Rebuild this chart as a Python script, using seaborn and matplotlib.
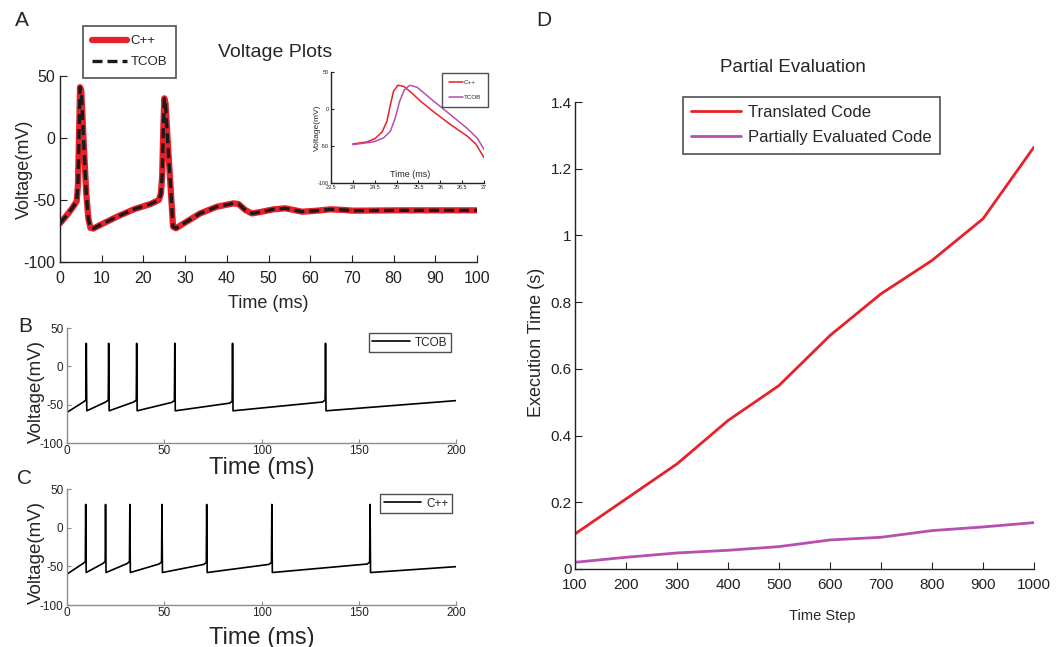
import matplotlib
matplotlib.use("Agg")
import matplotlib.pyplot as plt
import pandas as pd
import seaborn as sns

# ---- panel A: whole trace, C++ and TCOB lie on top of each other
a_time = [0, 1.7, 2.9, 4.0, 4.3, 4.55, 4.8, 5.1, 5.7, 6.3, 6.8, 7.3, 8.0,
          9.7, 13.7, 17.7, 21.7, 23.7, 24.2, 24.5, 24.75, 25.0, 25.3, 25.7,
          26.5, 27.1, 27.8, 29.7, 33.6, 37.6, 41.6, 42.8, 44.4, 46.0, 48.0,
          51.2, 54.0, 56.0, 58.0, 61.6, 64.8, 68.0, 70.3, 81.5, 100]
a_volt = [-68.8, -62, -56.7, -51, -38, 0, 41, 38, -5, -45, -65, -72.5, -73,
          -70, -63.4, -57.5, -53.2, -50, -44.6, -30, 5, 32, 28, 4,
          -39, -71.5, -72.8, -68.8, -60.8, -55.4, -52.7, -53.2, -58, -60.8, -59.7,
          -57.5, -56.7, -58, -59.4, -58.6, -57.5, -58, -58.6, -58.3, -58.3]

# ---- inset: zoom on the second spike
in_time_cpp = [24.0, 24.32, 24.51, 24.67, 24.78, 24.86, 24.93, 25.03, 25.16,
               25.32, 25.55, 25.85, 26.23, 26.62, 26.81, 27.0]
in_volt_cpp = [-47.3, -44.6, -40, -31, -16.7, 5.9, 23.9, 32, 30.6,
               23, 10.4, -4, -21, -37, -47.3, -66]
in_time_tcob = [24.0, 24.47, 24.7, 24.86, 24.97, 25.07, 25.18, 25.3, 25.47,
                25.85, 26.23, 26.62, 26.85, 27.0]
in_volt_tcob = [-48.2, -44.6, -39.2, -30, -12, 10.4, 26, 32, 29.3,
                10.4, -7.7, -26.6, -40, -55]

# ---- panels B and C: spike trains
b_spike_times = [9.9, 21.4, 35.8, 55.4, 85.1, 132.9]
b_prespike = [-44, -44, -44, -44.5, -45.5, -44]
b_start_v, b_end_v = -60, -44.7
c_spike_times = [9.6, 19.8, 32.3, 48.8, 71.8, 105.3, 155.8]
c_prespike = [-44, -44, -44, -44.5, -45, -45, -44.5]
c_start_v, c_end_v = -60, -50.4
spike_peak = 30
reset_v = -58

# ---- panel D
time_steps = [100, 200, 300, 400, 500, 600, 700, 800, 900, 1000]
translated = [0.105, 0.21, 0.315, 0.445, 0.55, 0.70, 0.825, 0.925, 1.05, 1.265]
partial = [0.02, 0.035, 0.048, 0.056, 0.067, 0.087, 0.095, 0.115, 0.126, 0.139]
d_yticks = [0, 0.2, 0.4, 0.6, 0.8, 1.0, 1.2, 1.4]
d_yticklabels = ["0", "0.2", "0.4", "0.6", "0.8", "1", "1.2", "1.4"]

RED = "#e8202a"
MAGENTA = "#b64fae"
NARROW = ["Liberation Sans Narrow", "Liberation Sans", "DejaVu Sans"]
SANS = ["Liberation Sans", "DejaVu Sans"]
W, H = 1064, 647
DASH = (3.0, 1.5)

sns.set_style("ticks")
plt.rcParams["font.family"] = SANS
plt.rcParams["axes.linewidth"] = 1.0
plt.rcParams["axes.unicode_minus"] = False


def spike_train(spikes, pre, v0, v_end, t_end=200):
    t, v = [0], [v0]
    for s, p in zip(spikes, pre):
        t += [s - 1.5, s - 0.2, s, s + 0.25]
        v += [p - 2.5, p, spike_peak, reset_v]
    t.append(t_end)
    v.append(v_end)
    return pd.DataFrame({"t": t, "v": v})


def style_axes(ax, color="#222222", length=4, size=11, family=NARROW,
               xpad=3.5, ypad=3.5):
    sns.despine(ax=ax)
    for s in ("left", "bottom"):
        ax.spines[s].set_color(color)
    ax.tick_params(direction="in", length=length, color=color,
                   labelsize=size, labelcolor="#222222")
    ax.tick_params(axis="x", pad=xpad)
    ax.tick_params(axis="y", pad=ypad)
    for lab in ax.get_xticklabels() + ax.get_yticklabels():
        lab.set_family(family)


def fig_legend(ax, x, y, loc="upper left", **kw):
    leg = ax.legend(loc=loc, bbox_to_anchor=(x / W, 1 - y / H),
                    bbox_transform=fig.transFigure, frameon=True,
                    fancybox=False, edgecolor="#222222", borderaxespad=0,
                    **kw)
    return leg


fig = plt.figure(figsize=(10.64, 6.47), dpi=100)

# ================= A
axA = fig.add_axes([0.0564, 0.595, 0.392, 0.2875])
dfA = pd.DataFrame({"t": a_time, "v": a_volt})
sns.lineplot(data=dfA, x="t", y="v", ax=axA, color=RED, lw=4.5,
             sort=False, estimator=None, label="C++")
sns.lineplot(data=dfA, x="t", y="v", ax=axA, color="#1a1a1a", lw=2.4,
             sort=False, estimator=None, label="TCOB", linestyle="--")
axA.lines[-1].set_dashes(DASH)
axA.set_xlim(0, 100)
axA.set_ylim(-100, 50)
axA.set_xticks(range(0, 101, 10))
axA.set_yticks([-100, -50, 0, 50])
style_axes(axA, length=5, size=11.5, xpad=6.5)
axA.set_xlabel("Time (ms)", fontsize=13)
axA.set_ylabel("Voltage(mV)", fontsize=13)
axA.xaxis.set_label_coords(0.5, -0.177)
axA.yaxis.set_label_coords(-0.066, 0.5)
axA.text(0.516, 1.124, "Voltage Plots", transform=axA.transAxes,
         ha="center", va="center", fontsize=14)
legA = fig_legend(axA, 83, 26, handlelength=2.6, borderpad=0.7,
                  labelspacing=0.65, handletextpad=0.3,
                  prop={"family": NARROW, "size": 9.5})
legA.get_frame().set_linewidth(1.2)
legA.get_lines()[1].set_dashes(DASH)

# ================= inset
axI = fig.add_axes([0.311, 0.7172, 0.144, 0.1716])
axI.set_facecolor("none")
sns.lineplot(x=in_time_cpp, y=in_volt_cpp, ax=axI, color=RED, lw=1.1,
             sort=False, estimator=None, label="C++")
sns.lineplot(x=in_time_tcob, y=in_volt_tcob, ax=axI, color=MAGENTA, lw=1.1,
             sort=False, estimator=None, label="TCOB")
axI.set_xlim(23.5, 27)
axI.set_ylim(-100, 50)
axI.set_xticks([23.5, 24, 24.5, 25, 25.5, 26, 26.5, 27])
axI.set_xticklabels(["23.5", "24", "24.5", "25", "25.5", "26", "26.5", "27"])
axI.set_yticks([-100, -50, 0, 50])
style_axes(axI, length=2.5, size=4, xpad=1.5, ypad=1.5)
axI.text(0.52, 0.08, "Time (ms)", transform=axI.transAxes, ha="center",
         va="center", fontsize=6.5, family=NARROW)
axI.set_ylabel("Voltage(mV)", fontsize=6)
axI.yaxis.set_label_coords(-0.065, 0.5)
axI.set_xlabel("")
legI = fig_legend(axI, 442, 73, handlelength=2.2, borderpad=1.1,
                  labelspacing=1.5, handletextpad=0.2,
                  prop={"family": NARROW, "size": 4.5})
legI.get_frame().set_linewidth(1.0)

# ================= B and C
panels = [
    ([0.063, 0.3153, 0.3656, 0.1777], b_spike_times, b_prespike,
     b_start_v, b_end_v, "TCOB", (451, 333), -0.12),
    ([0.063, 0.0649, 0.3656, 0.1793], c_spike_times, c_prespike,
     c_start_v, c_end_v, "C++", (452, 494), -0.19),
]
for rect, spikes, pre, v0, v1, name, legpos, xl_y in panels:
    ax = fig.add_axes(rect)
    sns.lineplot(data=spike_train(spikes, pre, v0, v1), x="t", y="v", ax=ax,
                 color="black", lw=1.2, sort=False, estimator=None, label=name)
    ax.set_xlim(0, 200)
    ax.set_ylim(-100, 50)
    ax.set_xticks([0, 50, 100, 150, 200])
    ax.set_yticks([-100, -50, 0, 50])
    style_axes(ax, color="#8c8c8c", length=3, size=8.5, family=SANS,
               xpad=1.5, ypad=2.5)
    ax.set_xlabel("Time (ms)", fontsize=17)
    ax.set_ylabel("Voltage(mV)", fontsize=13.5)
    ax.xaxis.set_label_coords(0.5, xl_y)
    ax.yaxis.set_label_coords(-0.057, 0.45)
    leg = fig_legend(ax, legpos[0], legpos[1], loc="upper right",
                     handlelength=3.2, borderpad=0.3, handletextpad=0.4,
                     prop={"family": SANS, "size": 8.5})
    leg.get_frame().set_linewidth(1.0)

# ================= D
axD = fig.add_axes([0.5404, 0.1206, 0.4314, 0.7217])
dfD = pd.DataFrame({"step": time_steps * 2,
                    "time": translated + partial,
                    "series": ["Translated Code"] * 10
                    + ["Partially Evaluated Code"] * 10})
sns.lineplot(data=dfD, x="step", y="time", hue="series", ax=axD,
             palette=[RED, MAGENTA], lw=2.0, estimator=None)
axD.set_xlim(100, 1000)
axD.set_ylim(0, 1.4)
axD.set_xticks(time_steps)
axD.set_yticks(d_yticks)
axD.set_yticklabels(d_yticklabels)
style_axes(axD, length=5, size=11, xpad=6.5, ypad=2.5)
axD.set_xlabel("Time Step", fontsize=10.5, family=NARROW)
axD.set_ylabel("Execution Time (s)", fontsize=13)
axD.xaxis.set_label_coords(0.538, -0.086)
axD.yaxis.set_label_coords(-0.065, 0.486)
axD.text(0.475, 1.075, "Partial Evaluation", transform=axD.transAxes,
         ha="center", va="center", fontsize=13.5, family=NARROW)
legD = fig_legend(axD, 683, 97, title=None, handlelength=3.0,
                  borderpad=0.5, labelspacing=0.6, handletextpad=0.4,
                  prop={"family": NARROW, "size": 12})
legD.get_frame().set_linewidth(1.2)

# ================= panel letters
for letter, px, py in [("A", 22, 20), ("B", 25, 326), ("C", 25, 479),
                       ("D", 544, 20)]:
    fig.text(px / W, 1 - py / H, letter, ha="center", va="center",
             fontsize=15)

fig.savefig("out.png", dpi=100)
